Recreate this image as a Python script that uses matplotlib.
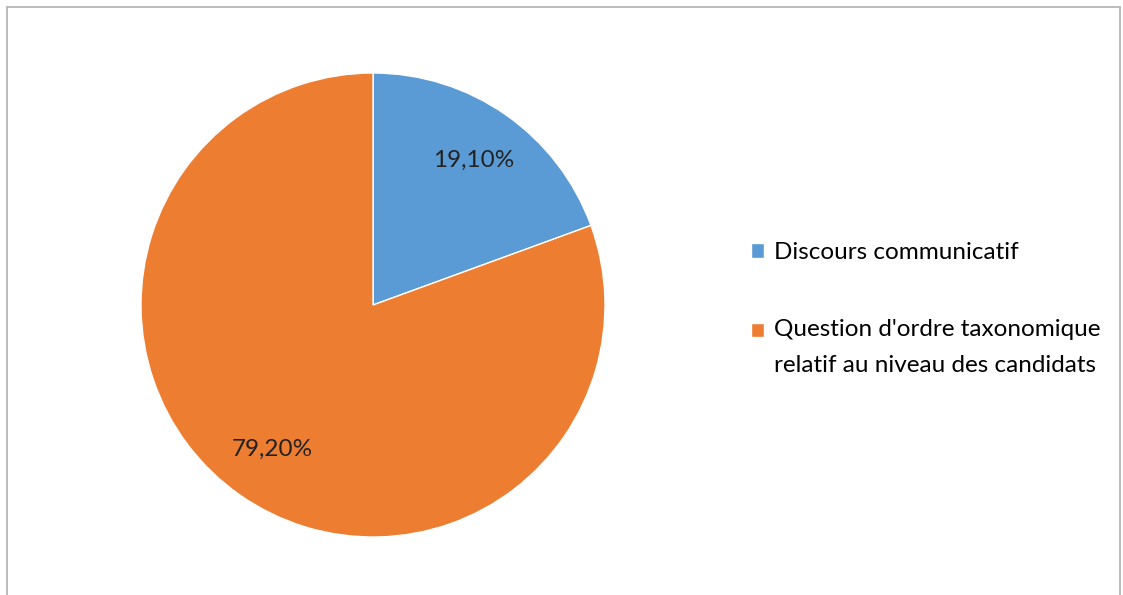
import numpy as np
import matplotlib.pyplot as plt
from matplotlib.patches import Rectangle
from matplotlib.legend_handler import HandlerPatch

# données
categories = ['Discours communicatif',
              "Question d'ordre taxonomique\nrelatif au niveau des candidats"]
valeurs = [19.1, 79.2]
etiquettes = ['19,10%', '79,20%']
couleurs = ['#5B9BD5', '#ED7D31']

plt.rcParams['font.family'] = ['Lato', 'DejaVu Sans']

fig = plt.figure(figsize=(11.23, 5.95), dpi=100)

# cadre du graphique
fig.patches.append(Rectangle((7 / 1123, -0.01), 1113 / 1123, 588 / 595 + 0.01,
                             transform=fig.transFigure, fill=False,
                             edgecolor='#b0b0b0', linewidth=1.2))

ax = fig.add_axes([(373 - 232) / 1123, (595 - 537) / 595, 464 / 1123, 464 / 595])
wedges, _ = ax.pie(valeurs, colors=couleurs, startangle=90, counterclock=False,
                   wedgeprops=dict(edgecolor='white', linewidth=1))
ax.set_xlim(-1, 1)
ax.set_ylim(-1, 1)
ax.set_aspect('equal')

# étiquettes de pourcentage
for w, txt in zip(wedges, etiquettes):
    ang = np.deg2rad((w.theta1 + w.theta2) / 2)
    ax.text(0.76 * np.cos(ang), 0.76 * np.sin(ang), txt,
            ha='center', va='center', fontsize=17.5, color='#222222')


# carré de légende aligné sur la première ligne du texte
def carre_haut(legend, orig_handle, xdescent, ydescent, width, height, fontsize):
    return Rectangle((-xdescent, -ydescent + 12.5), width, height)


fig.legend(wedges, categories, loc='center left',
           bbox_to_anchor=(729 / 1123, 1 - 309 / 595), frameon=False,
           fontsize=17.5, handlelength=0.55, handleheight=0.55, handletextpad=0.4,
           labelspacing=2.3,
           handler_map={wedges[1]: HandlerPatch(patch_func=carre_haut)})
for t in fig.legends[0].get_texts():
    t.set_linespacing(1.85)

plt.savefig('out.png', dpi=100)
